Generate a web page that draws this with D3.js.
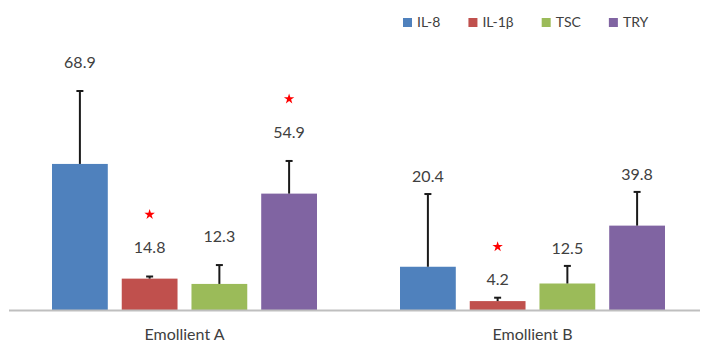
<!DOCTYPE html>
<html>
<head>
<meta charset="utf-8">
<script src="https://cdn.jsdelivr.net/npm/d3@7"></script>
<style>
  html, body { margin: 0; padding: 0; background: #fff; }
  svg { display: block; font-family: Lato, "Open Sans", sans-serif; }
</style>
</head>
<body>
<svg id="chart" width="702" height="343"></svg>
<script>
// ---- data ----
const groups = ["Emollient A", "Emollient B"];
const series = ["IL-8", "IL-1β", "TSC", "TRY"];
const valuesA = [68.9, 14.8, 12.3, 54.9];
const valuesB = [20.4, 4.2, 12.5, 39.8];
const errorsA = [34.4, 1.0, 8.9, 15.4];
const errorsB = [34.3, 1.6, 8.3, 15.9];
const starsA = [false, true, false, true];
const starsB = [false, true, false, false];
const colors = ["#4F81BD", "#C0504D", "#9BBB59", "#8064A2"];

const values = [valuesA, valuesB];
const errors = [errorsA, errorsB];
const stars = [starsA, starsB];

const rows = [];
groups.forEach((g, gi) => series.forEach((s, si) => rows.push({
  group: g, gi, series: s, si, value: values[gi][si], err: errors[gi][si], star: stars[gi][si]
})));

// ---- layout ----
const svg = d3.select("#chart");
const baseY = 310;
const x0 = d3.scaleBand().domain(groups).range([10.5, 706.5]).padding(0);
const x1 = d3.scaleBand().domain(series).range([41.5, 306.5]).paddingInner(0.2).paddingOuter(0);
const y = d3.scaleLinear().domain([0, 100]).range([baseY, baseY - 212]);
const color = d3.scaleOrdinal().domain(series).range(colors);
const labelOffset = [29, 18]; // px above error-bar top, per group
const textColor = "#404040";

// bars
svg.append("g").selectAll("rect").data(rows).join("rect")
  .attr("x", d => x0(d.group) + x1(d.series))
  .attr("y", d => y(d.value))
  .attr("width", x1.bandwidth())
  .attr("height", d => y(0) - y(d.value))
  .attr("fill", d => color(d.series));

// axis line
const axis = svg.append("g").attr("transform", `translate(0,${baseY + 0.5})`)
  .call(d3.axisBottom(x0).tickSize(0).tickPadding(18));
axis.select(".domain").attr("d", "M9,0H700").attr("stroke", "#BFBFBF").attr("stroke-width", 2);
axis.selectAll(".tick text").attr("font-size", 16).attr("fill", textColor)
  .attr("font-family", "Lato, sans-serif");

// error bars
const eg = svg.append("g").attr("stroke", "#1a1a1a").attr("stroke-width", 2);
rows.forEach(d => {
  const cx = x0(d.group) + x1(d.series) + x1.bandwidth() / 2;
  const yt = y(d.value + d.err);
  eg.append("line").attr("x1", cx).attr("x2", cx).attr("y1", y(d.value)).attr("y2", yt);
  eg.append("line").attr("x1", cx - 3.5).attr("x2", cx + 3.5).attr("y1", yt).attr("y2", yt);
});

// value labels + stars
rows.forEach(d => {
  const cx = x0(d.group) + x1(d.series) + x1.bandwidth() / 2;
  const ly = y(d.value + d.err) - labelOffset[d.gi];
  svg.append("text").attr("x", cx).attr("y", ly).attr("dy", "0.35em")
    .attr("text-anchor", "middle").attr("font-size", 16).attr("fill", textColor)
    .text(d.value.toFixed(1));
  if (d.star) {
    svg.append("path").attr("d", d3.symbol(d3.symbolStar, 34)())
      .attr("transform", `translate(${cx},${ly - 33})`).attr("fill", "#FF0000");
  }
});

// legend
const lg = svg.append("g").attr("transform", "translate(403,18)");
let lx = 0;
series.forEach((s, i) => {
  const item = lg.append("g").attr("transform", `translate(${lx},0)`);
  item.append("rect").attr("width", 9).attr("height", 9).attr("fill", color(s));
  const t = item.append("text").attr("x", 14).attr("y", 4.5).attr("dy", "0.35em")
    .attr("font-size", 14).attr("fill", textColor).text(s);
  lx += 14 + t.node().getComputedTextLength() + 28;
});
</script>
</body>
</html>
